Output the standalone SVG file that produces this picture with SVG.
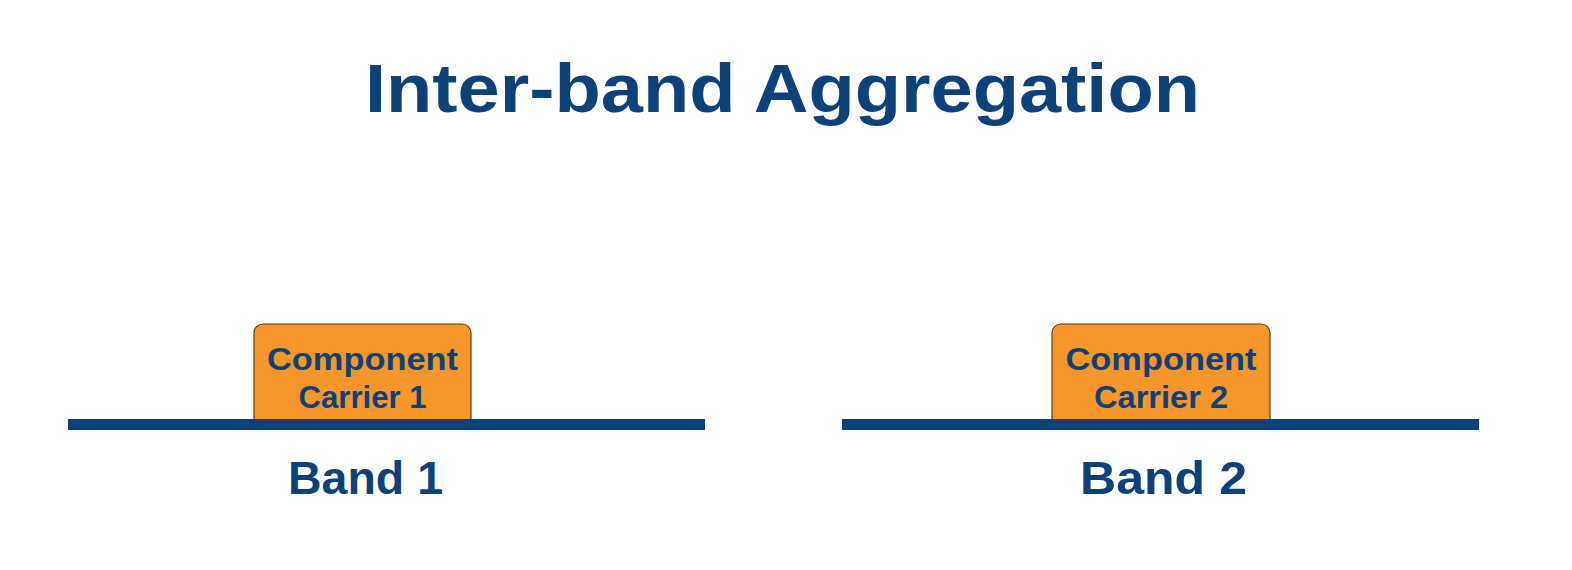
<svg xmlns="http://www.w3.org/2000/svg" width="1572" height="570" viewBox="0 0 1572 570">
<style>
.title{font-family:"Liberation Sans",Arial,sans-serif;font-weight:bold;font-size:68px;fill:#0D4279}
.band{font-family:"Liberation Sans",Arial,sans-serif;font-weight:bold;font-size:46px;fill:#0D4279}
.cc{font-family:"Liberation Sans",Arial,sans-serif;font-weight:bold;font-size:32px;fill:#0D4279}
.box{fill:#F7962A;stroke:#5B3B14;stroke-width:1.2}
.bar{fill:#0D4279}
</style>
<rect width="1572" height="570" fill="#ffffff"/>
<text class="title" x="782.5" y="112" text-anchor="middle" textLength="835" lengthAdjust="spacingAndGlyphs">Inter-band Aggregation</text>
<g id="cc1">
<rect class="box" x="254" y="324" width="217" height="104" rx="9"/>
<text class="cc" x="362.5" y="370" text-anchor="middle" textLength="191" lengthAdjust="spacingAndGlyphs">Component</text>
<text class="cc" x="362.5" y="408" text-anchor="middle" textLength="128" lengthAdjust="spacingAndGlyphs">Carrier 1</text>
</g>
<g id="cc2">
<rect class="box" x="1052" y="324" width="218" height="104" rx="9"/>
<text class="cc" x="1161" y="370" text-anchor="middle" textLength="191" lengthAdjust="spacingAndGlyphs">Component</text>
<text class="cc" x="1161" y="408" text-anchor="middle" textLength="134" lengthAdjust="spacingAndGlyphs">Carrier 2</text>
</g>
<g id="band1">
<rect class="bar" x="68" y="419" width="637" height="11"/>
<text class="band" x="365.5" y="494" text-anchor="middle" textLength="155" lengthAdjust="spacingAndGlyphs">Band 1</text>
</g>
<g id="band2">
<rect class="bar" x="842" y="419" width="637" height="11"/>
<text class="band" x="1163.5" y="494" text-anchor="middle" textLength="167" lengthAdjust="spacingAndGlyphs">Band 2</text>
</g>
<g id="connectors"></g>
</svg>
